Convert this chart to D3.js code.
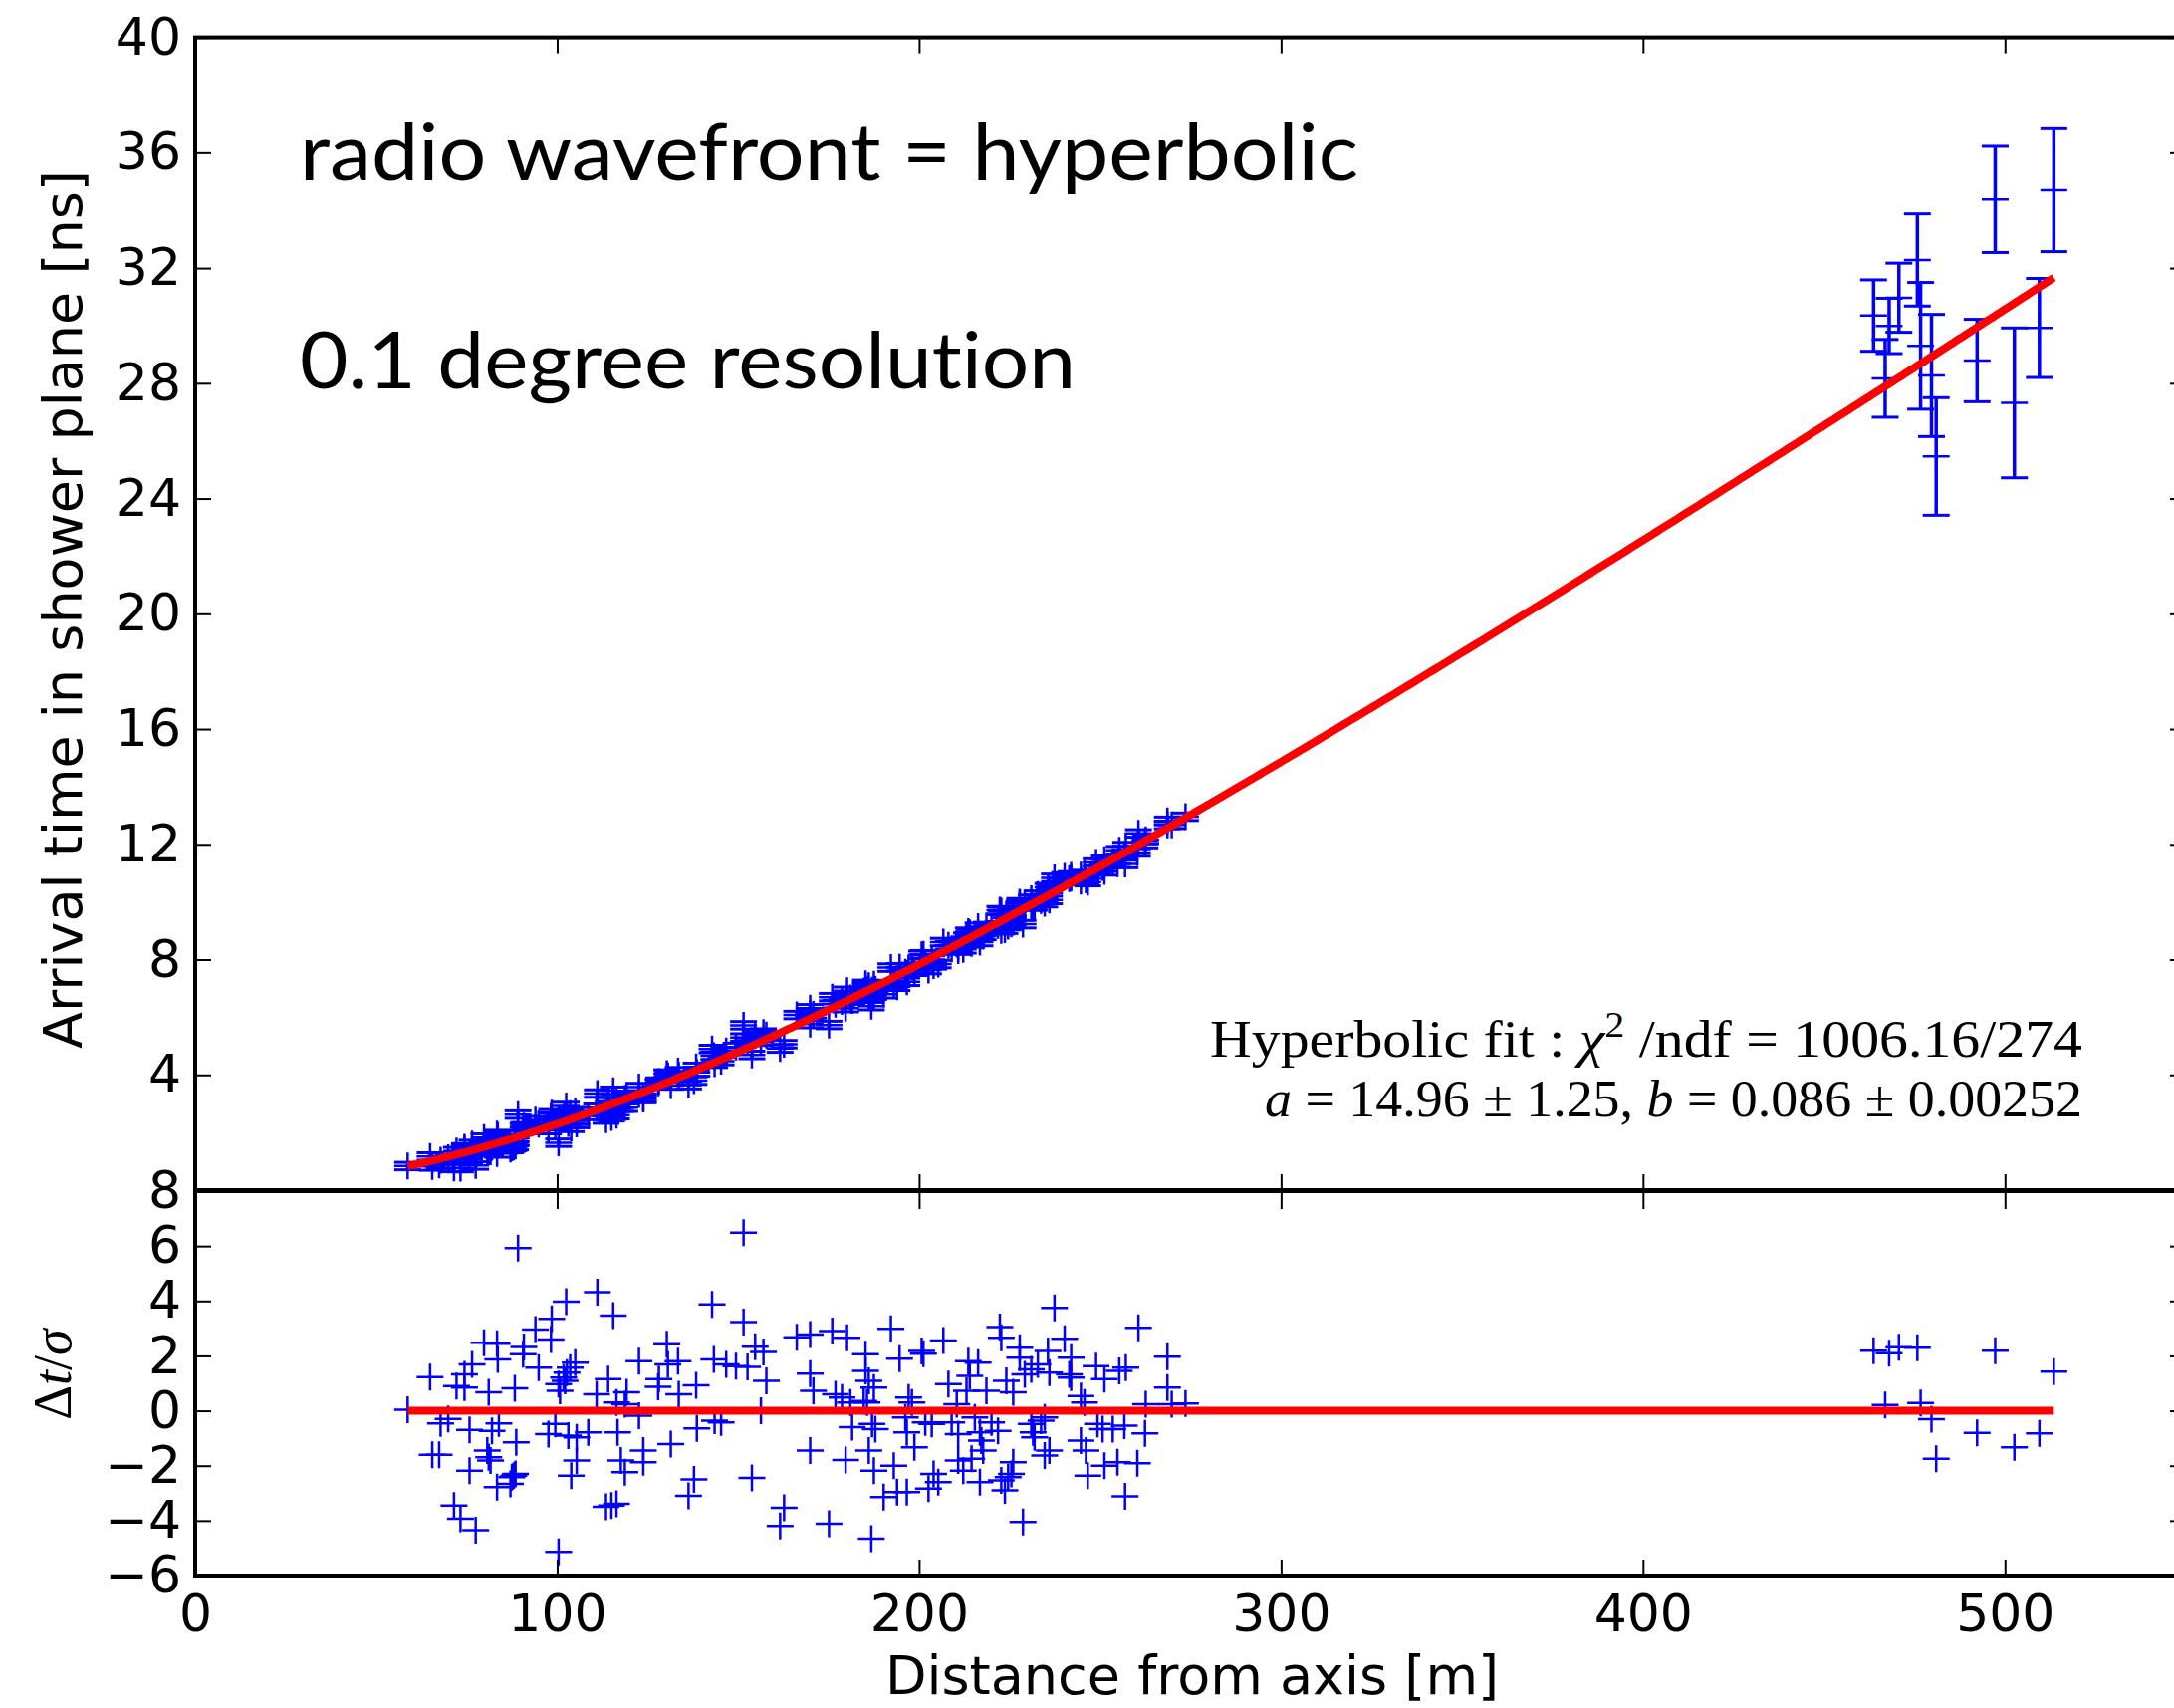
<!DOCTYPE html>
<html><head><meta charset="utf-8">
<script src="https://cdn.jsdelivr.net/npm/d3@7"></script>
<style>body{margin:0;background:#fff} svg{display:block} text{font-variant-ligatures:none;font-feature-settings:"liga" 0,"clig" 0}</style>
</head><body>
<svg id="c" width="2183" height="1715"></svg>
<script>
// ---------------- data ----------------
const fitA = 14.96, fitB = 0.086;          // hyperbolic fit parameters (from annotation)
const nearSigma = 0.13;                   // timing uncertainty of the close-range antennas [ns]

const nearDistance = [58.7,64.9,67.8,69.9,65.5,67.4,71.5,73.3,77.5,72.2,74.4,74.4,76.5,75.8,75.8,79.8,83.4,83.6,81.1,82.0,
 83.9,80.7,81.1,81.6,83.4,87.5,88.0,87.1,88.5,88.7,88.3,89.2,90.8,90.6,94.0,94.9,98.5,98.3,102.5,111.1,
 115.5,100.4,97.6,99.5,100.4,101.8,102.7,103.6,105.0,100.8,102.2,103.1,105.4,105.4,103.9,108.6,110.9,114.1,116.4,118.7,
 119.2,116.7,117.6,118.7,113.5,115.0,116.4,122.6,122.6,123.8,123.8,127.9,128.1,130.3,130.6,133.4,131.4,133.6,138.4,138.6,
 137.8,136.3,142.8,143.3,146.7,149.4,152.6,145.3,143.5,151.5,151.5,154.7,157.0,157.8,156.3,153.8,162.7,161.6,166.2,169.9,
 176.0,169.9,170.8,169.9,175.1,
 180.1,185.2,185.2,186.1,187.5,184.7,185.6,176.9,178.7,181.0,181.5,187.0,187.9,179.7,186.1,187.5,186.8,190.2,193.0,193.9,
 196.6,192.2,194.6,197.1,198.0,196.2,196.6,198.7,200.7,201.2,206.7,201.7,203.5,204.0,205.3,202.6,208.1,210.4,209.0,210.8,
 210.8,212.2,213.6,216.3,214.0,213.1,218.6,215.4,216.8,217.2,217.7,216.8,214.5,220.0,221.8,222.3,222.7,224.1,226.0,222.7,
 224.6,225.5,226.0,223.7,227.8,227.8,228.7,229.2,231.0,232.8,235.6,231.0,231.5,231.9,233.7,234.7,234.7,236.0,236.0,237.4,
 240.2,241.5,242.0,242.0,244.7,245.7,244.7,246.1,246.6,248.9,251.2,249.3,250.7,251.2,254.8,260.3,255.3,257.1,253.5,256.7,
 256.9,260.6,262.6,262.4,268.6,268.6,269.8,273.6];
const nearResidual = [0.04,1.23,-0.46,-0.30,-1.60,-1.60,-3.45,-3.93,-4.35,0.90,1.33,0.85,1.69,-0.70,-2.18,2.48,2.44,1.87,0.67,-0.73,
 -0.46,-1.45,-1.69,-1.81,-2.78,-2.42,-2.36,-2.66,-2.30,-1.15,0.82,5.92,2.32,2.06,2.96,1.57,3.35,2.60,3.97,4.32,
 3.47,-5.14,-0.85,-0.48,0.97,1.21,1.39,1.57,1.75,0.73,1.09,-0.90,-0.97,-1.81,-2.36,-0.79,0.60,1.15,0.30,0.24,
 0.67,-0.79,-1.81,-2.24,-3.50,-3.45,-3.39,1.81,-0.18,-1.45,-1.87,0.87,1.15,2.42,1.69,1.81,-1.21,0.60,0.93,-0.64,
 -2.50,-3.10,3.87,1.87,1.69,1.63,1.60,-0.42,-0.36,6.49,3.23,2.33,2.14,1.09,0.00,-2.45,-3.53,-4.20,2.68,2.78,
 2.90,1.35,0.73,-1.45,-4.11,
 2.66,2.06,1.45,1.09,0.85,0.36,0.30,0.60,0.48,0.30,-0.60,-0.48,-0.67,-1.79,-1.45,-2.18,-4.66,-3.14,-2.00,-2.96,
 -2.96,2.99,1.90,0.48,0.30,-0.24,-0.79,-1.33,2.18,2.08,2.56,-0.42,-0.48,-2.30,-2.60,-2.84,0.97,0.24,-0.42,-0.85,
 -1.81,-2.18,1.81,1.75,1.27,0.73,0.73,-0.24,-0.79,-1.09,-1.45,-2.60,-1.75,-0.42,-0.73,3.05,2.66,1.09,0.67,-2.54,
 -2.42,-2.30,-1.87,-2.90,2.30,1.93,-4.05,1.33,1.51,1.69,2.18,-0.48,-0.79,-0.97,-0.36,-0.24,-1.63,-1.45,1.39,3.75,
 2.62,1.33,1.21,1.93,0.54,0.30,-1.09,-1.45,-2.36,1.63,1.15,-0.48,-0.67,-2.00,-1.87,-1.91,1.45,1.57,-0.67,-0.54,
 -3.12,3.02,0.24,-0.82,1.97,0.85,0.24,0.27];

const farDistance = [463.7,466.9,468.0,470.7,475.8,476.7,479.7,481.0,492.3,497.3,502.6,509.5,513.5];
const farTime     = [30.35,28.17,29.99,30.97,32.28,29.30,28.27,25.46,28.79,34.38,27.32,29.92,34.70];
const farError    = [1.24,1.35,0.96,1.20,1.60,2.20,2.12,2.04,1.43,1.84,2.60,1.72,2.13];

const xTicks = [0,100,200,300,400,500];
const topYTicks = [4,8,12,16,20,24,28,32,36,40];
const resYTicks = [-6,-4,-2,0,2,4,6,8];

// ---------------- chart ----------------
const svg = d3.select("#c");
const BLUE = "#0000ff", RED = "#ff0000";
const x  = d3.scaleLinear().domain([0,550]).range([196,2195]);
const yT = d3.scaleLinear().domain([0,40]).range([1195,37.6]);
const yR = d3.scaleLinear().domain([-6,8]).range([1582,1196]);
const model = d => Math.sqrt(fitA*fitA + (fitB*d)*(fitB*d)) - fitA;

const near = nearDistance.map((d,i)=>({x:d, r:nearResidual[i], s:nearSigma, t:model(d)+nearResidual[i]*nearSigma}));
const far  = farDistance.map((d,i)=>({x:d, t:farTime[i], s:farError[i], r:(farTime[i]-model(d))/farError[i]}));
const pts = near.concat(far);
const xmin = d3.min(pts,d=>d.x), xmax = d3.max(pts,d=>d.x);
const H = 13.5; // half marker / cap size

// top panel points
const gT = svg.append("g");
gT.selectAll("line.eb").data(pts).join("line")
  .attr("x1",d=>x(d.x)).attr("x2",d=>x(d.x))
  .attr("y1",d=>yT(d.t-d.s)).attr("y2",d=>yT(d.t+d.s))
  .attr("stroke",BLUE).attr("stroke-width",3.5);
["lo","hi"].forEach(k=>{
  gT.selectAll("line.cap"+k).data(pts).join("line")
    .attr("x1",d=>x(d.x)-H).attr("x2",d=>x(d.x)+H)
    .attr("y1",d=>yT(k==="lo"?d.t-d.s:d.t+d.s)).attr("y2",d=>yT(k==="lo"?d.t-d.s:d.t+d.s))
    .attr("stroke",BLUE).attr("stroke-width",3);
});
function plus(g, data, fx, fy){
  g.selectAll(null).data(data).join("path")
   .attr("d",d=>`M${fx(d)-H},${fy(d)}H${fx(d)+H}M${fx(d)},${fy(d)-H}V${fy(d)+H}`)
   .attr("stroke",BLUE).attr("stroke-width",2.5).attr("fill","none");
}
plus(gT, pts, d=>x(d.x), d=>yT(d.t));

// fit curve
const curve = d3.range(xmin, xmax, 1).concat([xmax]);
gT.append("path").datum(curve)
  .attr("d", d3.line().x(d=>x(d)).y(d=>yT(model(d))))
  .attr("fill","none").attr("stroke",RED).attr("stroke-width",8);

// residual panel
const gR = svg.append("g");
plus(gR, pts, d=>x(d.x), d=>yR(d.r));
gR.append("line").attr("x1",x(xmin)).attr("x2",x(xmax)).attr("y1",yR(0)).attr("y2",yR(0))
  .attr("stroke",RED).attr("stroke-width",8);

// axes
function style(g, show){
  g.select(".domain").remove();
  g.selectAll(".tick line").attr("stroke","#000").attr("stroke-width",2);
  g.attr("font-family","DejaVu Sans").attr("font-size",52);
  g.selectAll(".tick text").attr("fill","#000");
  if(!show) g.selectAll(".tick text").remove();
}
const fmt = d3.format("d");
svg.append("g").attr("transform",`translate(${x(0)},0)`)
  .call(d3.axisLeft(yT).tickValues(topYTicks).tickSize(-16).tickPadding(14).tickFormat(fmt)).call(g=>style(g,true));
svg.append("g").attr("transform",`translate(${x(550)},0)`)
  .call(d3.axisRight(yT).tickValues(topYTicks).tickSize(-16)).call(g=>style(g,false));
svg.append("g").attr("transform",`translate(0,${yT(0)})`)
  .call(d3.axisBottom(x).tickValues(xTicks).tickSize(-16)).call(g=>style(g,false));
svg.append("g").attr("transform",`translate(0,${yT(40)})`)
  .call(d3.axisTop(x).tickValues(xTicks).tickSize(-16)).call(g=>style(g,false));

svg.append("g").attr("transform",`translate(${x(0)},0)`)
  .call(d3.axisLeft(yR).tickValues(resYTicks).tickSize(-16).tickPadding(14).tickFormat(fmt)).call(g=>style(g,true));
svg.append("g").attr("transform",`translate(${x(550)},0)`)
  .call(d3.axisRight(yR).tickValues(resYTicks).tickSize(-16)).call(g=>style(g,false));
svg.append("g").attr("transform",`translate(0,${yR(8)})`)
  .call(d3.axisTop(x).tickValues(xTicks).tickSize(-18)).call(g=>style(g,false));
svg.append("g").attr("transform",`translate(0,${yR(-6)})`)
  .call(d3.axisBottom(x).tickValues(xTicks).tickSize(-16).tickPadding(19).tickFormat(fmt)).call(g=>style(g,true));

// spines
[[yT(40),yT(0)],[yR(8),yR(-6)]].forEach(([a,b])=>{
  svg.append("rect").attr("x",x(0)).attr("y",a).attr("width",x(550)-x(0)).attr("height",b-a)
    .attr("fill","none").attr("stroke","#000").attr("stroke-width",4);
});

// axis labels
svg.append("text").attr("transform","translate(82,612) rotate(-90)").attr("text-anchor","middle")
  .attr("font-family","DejaVu Sans").attr("font-size",54).text("Arrival time in shower plane [ns]");
svg.append("text").attr("x",1197).attr("y",1701).attr("text-anchor","middle")
  .attr("font-family","DejaVu Sans").attr("font-size",54).text("Distance from axis [m]");
const dl = svg.append("text").attr("transform","translate(71,1380) rotate(-90)").attr("text-anchor","middle")
  .attr("font-family","Liberation Serif").attr("font-size",54);
dl.append("tspan").text("Δ");
dl.append("tspan").attr("font-style","italic").text("t");
dl.append("tspan").text("/");
dl.append("tspan").attr("font-style","italic").text("σ");

// big annotations
svg.append("text").attr("x",301).attr("y",181).attr("font-family","Lato").attr("font-size",80)
  .attr("textLength",1063).attr("lengthAdjust","spacingAndGlyphs").text("radio wavefront = hyperbolic");
svg.append("text").attr("x",301).attr("y",390).attr("font-family","Lato").attr("font-size",80)
  .attr("textLength",779).attr("lengthAdjust","spacingAndGlyphs").text("0.1 degree resolution");

// fit annotation
const t1 = svg.append("text").attr("x",2091).attr("y",1061).attr("text-anchor","end")
  .attr("font-family","Liberation Serif").attr("font-size",52)
  .attr("textLength",876).attr("lengthAdjust","spacingAndGlyphs");
t1.append("tspan").text("Hyperbolic fit : ");
t1.append("tspan").attr("font-style","italic").text("χ");
t1.append("tspan").attr("dy",-20).attr("font-size",36).text("2");
t1.append("tspan").attr("dy",20).text(" /ndf = 1006.16/274");
const t2 = svg.append("text").attr("x",2091).attr("y",1121).attr("text-anchor","end")
  .attr("font-family","Liberation Serif").attr("font-size",52)
  .attr("textLength",821).attr("lengthAdjust","spacingAndGlyphs");
t2.append("tspan").attr("font-style","italic").text("a");
t2.append("tspan").text(" = 14.96 ± 1.25, ");
t2.append("tspan").attr("font-style","italic").text("b");
t2.append("tspan").text(" = 0.086 ± 0.00252");
</script>
</body></html>
